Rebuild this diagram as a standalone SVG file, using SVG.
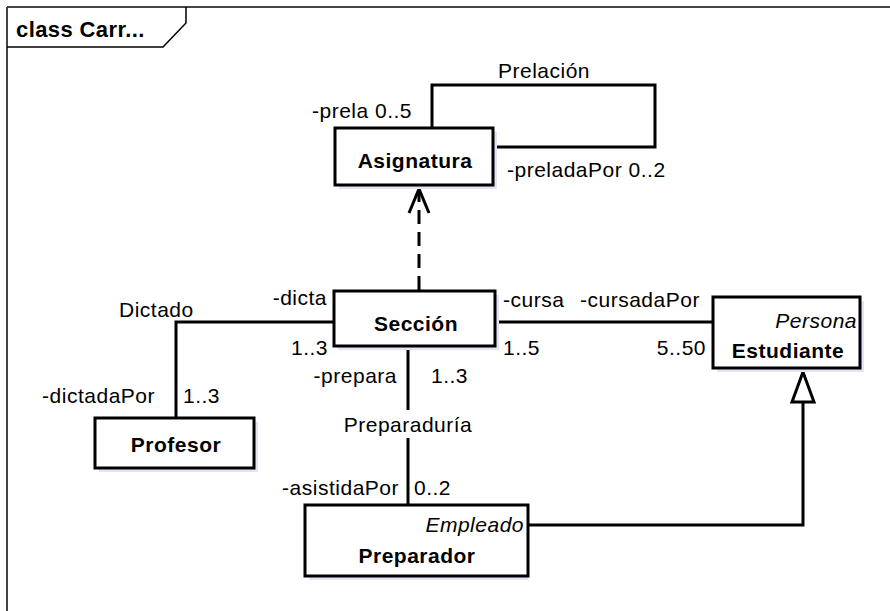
<svg xmlns="http://www.w3.org/2000/svg" width="890" height="611" viewBox="0 0 890 611">
<style>
text{font-family:"Liberation Sans",Arial,sans-serif;font-size:21px;fill:#000;letter-spacing:0.5px}
.b{font-weight:bold}
.i{font-style:italic}
.m{text-anchor:middle}
.e{text-anchor:end}
.box{fill:#fff;stroke:#000;stroke-width:3}
.sh{fill:#E3E3F7}
.ln{fill:none;stroke:#000;stroke-width:3}
</style>
<g id="frame">
<path d="M7,7 H890 M7,7 V611" fill="none" stroke="#444" stroke-width="2"/>
<path d="M7,47 H163 L186,23 V7" fill="none" stroke="#000" stroke-width="1.5"/>
<text class="b" x="16" y="37" style="font-size:22px;letter-spacing:0.4px">class Carr...</text>
</g>
<g id="connectors">
<path class="ln" d="M432,128 V85 H655 V147 H493"/>
<path class="ln" d="M419,290 V192" stroke-dasharray="14,8"/>
<path class="ln" d="M409,213 L419,189 L429,213"/>
<path class="ln" d="M334,322 H176 V418"/>
<path class="ln" d="M495,322 H713"/>
<path class="ln" d="M408,346 V410 M408,438 V505"/>
<path class="ln" d="M528,525 H803 V402"/>
<path d="M803,372 L792,402 L814,402 Z" fill="#fff" stroke="#000" stroke-width="3"/>
<text x="544" y="78" class="m">Prelación</text>
<text x="312" y="118">-prela 0..5</text>
<text x="507" y="177">-preladaPor 0..2</text>
<text x="119" y="317">Dictado</text>
<text x="327" y="305" class="e">-dicta</text>
<text x="328" y="355" class="e">1..3</text>
<text x="155" y="403" class="e">-dictadaPor</text>
<text x="183" y="403">1..3</text>
<text x="503" y="307">-cursa</text>
<text x="580" y="307">-cursadaPor</text>
<text x="503" y="355">1..5</text>
<text x="706" y="355" class="e">5..50</text>
<text x="397" y="383" class="e">-prepara</text>
<text x="431" y="383">1..3</text>
<text x="408" y="432" class="m">Preparaduría</text>
<text x="399" y="495" class="e">-asistidaPor</text>
<text x="414" y="495">0..2</text>
</g>
<g id="Asignatura">
<rect class="sh" x="339" y="132" width="158" height="57"/>
<rect class="box" x="335" y="128" width="158" height="57"/>
<text class="b m" x="415" y="168">Asignatura</text>
</g>
<g id="Seccion">
<rect class="sh" x="338" y="295" width="161" height="55"/>
<rect class="box" x="334" y="291" width="161" height="55"/>
<text class="b m" x="416" y="331">Sección</text>
</g>
<g id="Profesor">
<rect class="sh" x="99" y="422" width="159" height="50"/>
<rect class="box" x="95" y="418" width="159" height="50"/>
<text class="b m" x="176" y="452">Profesor</text>
</g>
<g id="Estudiante">
<rect class="sh" x="717" y="301" width="147" height="71"/>
<rect class="box" x="713" y="297" width="147" height="71"/>
<text class="i e" x="857" y="328">Persona</text>
<text class="b m" x="788" y="358">Estudiante</text>
</g>
<g id="Preparador">
<rect class="sh" x="309" y="509" width="219" height="71"/>
<rect class="box" x="305" y="505" width="223" height="71"/>
<text class="i e" x="524" y="532">Empleado</text>
<text class="b m" x="417" y="563">Preparador</text>
</g>
</svg>
